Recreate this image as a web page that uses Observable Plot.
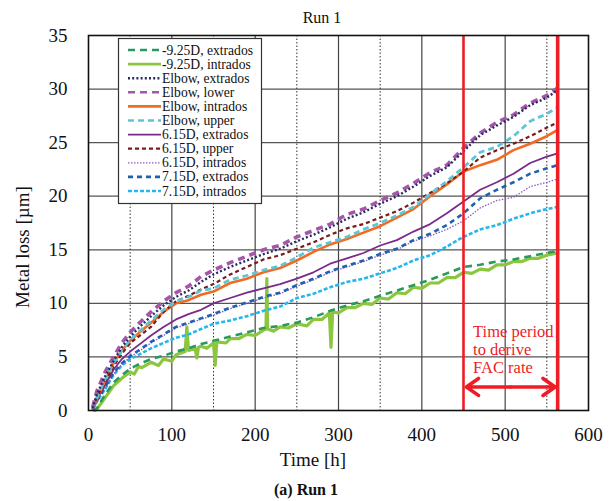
<!DOCTYPE html>
<html>
<head>
<meta charset="utf-8">
<script src="https://cdn.jsdelivr.net/npm/d3@7"></script>
<script src="https://cdn.jsdelivr.net/npm/@observablehq/plot@0.6"></script>
<style>
  html, body { margin: 0; padding: 0; background: white; }
  #chart { position: relative; width: 611px; height: 501px; }
</style>
</head>
<body>
<div id="chart"></div>
<script>
// ---------- data ----------
const times = [5,10,20,30,40,50,60,75,90,105,120,135,150,170,190,210,230,250,270,290,310,330,350,370,390,410,430,450,470,490,510,530,550,563];

const seriesNames = [
  "-9.25D, extrados", "-9.25D, intrados", "Elbow, extrados", "Elbow, lower", "Elbow, intrados",
  "Elbow, upper", "6.15D, extrados", "6.15D, upper", "6.15D, intrados", "7.15D, extrados", "7.15D, intrados"
];

const m925Extrados = [0,0.2,1.5,2.6,3.3,3.9,4.3,4.8,5.1,5.5,5.8,6.2,6.5,6.9,7.3,7.7,7.9,8.2,8.7,9.3,9.8,10.2,10.7,11.2,11.7,12.2,12.8,13.4,13.6,13.9,14.1,14.4,14.7,14.9];

const m925IntradosTimes = [8,10,20,30,40,50,55,60,64,75,84,90,100,105,116,118,120,128,130,132,135,142,150,152,154,165,170,180,190,200,210,213,214,215,222,230,240,250,262,270,280,289,291,293,300,310,320,330,340,350,360,370,380,390,400,410,420,430,440,450,460,470,480,490,500,510,520,530,540,550,563];
const m925Intrados     = [0,0.1,1.2,2.3,3.0,3.6,3.4,4.1,4.0,4.5,4.2,4.8,4.6,5.2,5.5,7.8,5.6,5.8,4.9,5.9,6.0,5.8,6.3,4.2,6.4,6.3,6.7,6.7,7.1,7.0,7.5,7.6,12.3,7.6,7.4,7.8,7.7,8.1,7.9,8.5,8.5,9.1,5.9,9.2,9.1,9.6,9.6,10.0,9.9,10.5,10.4,11.0,10.9,11.5,11.4,11.9,11.9,12.4,12.4,12.9,12.8,13.2,13.1,13.6,13.6,13.9,13.9,14.2,14.2,14.5,14.7];

const elbowExtrados = [0.2,1.5,3.2,4.6,5.9,6.9,7.7,8.8,9.8,10.6,11.2,12.0,12.7,13.4,14.0,14.6,15.1,15.8,16.4,17.1,17.9,18.5,19.3,20.0,20.9,21.9,22.7,24.2,25.7,26.6,27.4,28.5,29.2,29.9];
const elbowLower    = [0.3,1.8,3.6,5.0,6.3,7.3,8.1,9.2,10.2,11.0,11.6,12.5,13.1,13.8,14.4,15.0,15.4,16.2,16.8,17.4,18.3,18.8,19.6,20.3,21.2,22.2,22.9,24.5,25.9,26.9,27.6,28.7,29.4,30.1];
const elbowIntrados = [0.2,1.1,2.8,4.4,5.6,6.5,7.2,8.2,9.2,10.0,10.3,10.8,11.1,11.9,12.3,12.9,13.3,14.0,14.8,15.5,16.0,16.6,17.2,18.0,18.8,20.0,21.1,22.3,22.9,23.4,24.3,24.9,25.6,26.2];
const elbowUpper    = [0.2,1.2,2.9,4.4,5.6,6.6,7.3,8.4,9.4,10.2,10.6,11.2,11.4,12.2,12.6,13.1,13.5,14.3,15.2,15.7,16.2,16.9,17.5,18.2,19.0,20.2,21.4,22.7,24.1,24.6,25.6,27.0,27.7,28.3];
const d615Extrados  = [0.1,1.0,2.4,3.8,4.8,5.5,6.1,7.0,7.8,8.5,9.0,9.4,10.0,10.5,11.0,11.4,11.8,12.3,12.9,13.7,14.2,14.7,15.4,15.9,16.7,17.4,18.4,19.5,20.6,21.3,22.1,23.1,23.7,24.0];
const d615Upper     = [0.3,1.2,2.7,4.1,5.3,6.3,6.9,7.8,9.2,10.2,10.7,11.3,11.8,12.7,13.4,14.1,14.5,15.1,15.7,16.4,17.0,17.4,18.0,18.6,19.4,20.3,21.2,22.3,23.6,24.3,24.9,25.6,26.4,26.9];
const d615Intrados  = [0.1,0.9,2.1,3.4,4.3,5.0,5.5,6.3,7.0,7.7,8.1,8.5,8.9,9.5,10.0,10.5,10.9,11.6,12.2,12.9,13.4,13.9,14.5,15.0,15.8,16.3,16.9,17.7,18.9,19.6,19.9,20.9,21.3,21.6];
const d715Extrados  = [0.1,0.9,2.2,3.5,4.4,5.1,5.6,6.4,7.1,7.8,8.2,8.6,9.0,9.6,10.1,10.6,11.0,11.7,12.3,13.0,13.5,14.0,14.6,15.1,15.9,16.5,17.3,18.4,19.8,20.6,21.3,22.1,22.6,22.9];
const d715Intrados  = [0.1,0.8,2.0,3.3,4.2,4.8,5.2,5.8,6.3,6.8,7.1,7.6,8.1,8.4,8.8,9.3,9.7,10.5,10.9,11.5,12.0,12.3,12.8,13.3,14.0,14.5,15.3,16.2,16.9,17.3,17.9,18.4,18.8,19.0];

const xTicks = [0,100,200,300,400,500,600];
const yTicks = [0,5,10,15,20,25,30,35];
const periodStart = 450, periodEnd = 563;
const annotationText = "Time period\nto derive\nFAC rate";

// ---------- styles ----------
const styles = {
  "-9.25D, extrados": {stroke:"#2a9a5c", width:2.6, dash:"7,5"},
  "-9.25D, intrados": {stroke:"#8cc63f", width:3.2, dash:null},
  "Elbow, extrados":  {stroke:"#2b2a63", width:2.4, dash:"2,2.2"},
  "Elbow, lower":     {stroke:"#a456a8", width:3.6, dash:"7,5"},
  "Elbow, intrados":  {stroke:"#f36a21", width:2.6, dash:null},
  "Elbow, upper":     {stroke:"#5cc6d6", width:2.8, dash:"6,4"},
  "6.15D, extrados":  {stroke:"#7a2a8a", width:1.8, dash:null},
  "6.15D, upper":     {stroke:"#7a1c1c", width:2.2, dash:"4,3"},
  "6.15D, intrados":  {stroke:"#8a5cc4", width:1.3, dash:"1.5,1.5"},
  "7.15D, extrados":  {stroke:"#2160b0", width:2.6, dash:"5,4"},
  "7.15D, intrados":  {stroke:"#25b6ef", width:2.6, dash:"4,2"}
};

const valuesByName = {
  "-9.25D, extrados": [times, m925Extrados],
  "-9.25D, intrados": [m925IntradosTimes, m925Intrados],
  "Elbow, extrados": [times, elbowExtrados],
  "Elbow, lower": [times, elbowLower],
  "Elbow, intrados": [times, elbowIntrados],
  "Elbow, upper": [times, elbowUpper],
  "6.15D, extrados": [times, d615Extrados],
  "6.15D, upper": [times, d615Upper],
  "6.15D, intrados": [times, d615Intrados],
  "7.15D, extrados": [times, d715Extrados],
  "7.15D, intrados": [times, d715Intrados]
};

// drawing order (bottom to top)
const drawOrder = ["-9.25D, intrados","-9.25D, extrados","7.15D, intrados","6.15D, intrados","7.15D, extrados",
  "6.15D, extrados","Elbow, intrados","6.15D, upper","Elbow, upper","Elbow, lower","Elbow, extrados"];

const lineMarks = drawOrder.map(name => {
  const [ts, vs] = valuesByName[name];
  const data = ts.map((t, i) => ({t, v: vs[i]}));
  const s = styles[name];
  return Plot.line(data, {x:"t", y:"v", stroke:s.stroke, strokeWidth:s.width,
    strokeDasharray: s.dash || undefined, strokeLinejoin:"round", strokeLinecap: s.dash ? "butt" : "round"});
});

const red = "#ee1c25";
const font = "'Liberation Serif', 'Times New Roman', serif";

const chart = Plot.plot({
  width: 611, height: 501,
  marginLeft: 88, marginRight: 23, marginTop: 35, marginBottom: 91,
  style: {fontFamily: font, fontSize: "19px", background: "white", color: "#111", overflow: "visible"},
  x: {domain: [0, 600], label: null},
  y: {domain: [0, 35], label: null},
  marks: [
    Plot.ruleY([5,10,15,20,25,30], {stroke:"#555", strokeWidth:1.3}),
    Plot.ruleX([100,200,300,400,500], {stroke:"#444", strokeWidth:1.2}),
    Plot.ruleX([50,150,250,350,550], {stroke:"#333", strokeWidth:1, strokeDasharray:"1.5,2"}),
    ...lineMarks,
    Plot.ruleX([periodStart], {stroke:red, strokeWidth:2.6}),
    Plot.ruleX([periodEnd], {stroke:red, strokeWidth:3.6}),
    Plot.arrow([{x1:(periodStart+periodEnd)/2, x2:periodStart+3.5}, {x1:(periodStart+periodEnd)/2, x2:periodEnd-3}],
      {x1:"x1", x2:"x2", y1:2.2, y2:2.2, stroke:red, strokeWidth:3.6, headLength:13, headAngle:70}),
    Plot.text([annotationText], {x: periodStart + 11.5, y: 8.05, text: d => d, textAnchor:"start", lineAnchor:"top",
      fill: red, fontSize: 16.5, lineHeight: 1.09, fontFamily: font}),
    Plot.frame({stroke:"#111", strokeWidth:1.6}),
    Plot.axisX(xTicks, {tickSize:0, tickPadding:17, fontSize:19, fontFamily: font, label:null}),
    Plot.axisY(yTicks, {tickSize:0, tickPadding:21, fontSize:19, fontFamily: font, label:null})
  ]
});
document.getElementById("chart").appendChild(chart);

// ---------- titles & legend ----------
const svg = d3.select(chart);
svg.append("text").attr("x", 322).attr("y", 23).attr("text-anchor","middle")
  .attr("font-family", font).attr("font-size", 16).attr("fill","#111").text("Run 1");
svg.append("text").attr("x", 313).attr("y", 466).attr("text-anchor","middle")
  .attr("font-family", font).attr("font-size", 19).attr("fill","#111").text("Time [h]");
svg.append("text").attr("x", 306).attr("y", 495).attr("text-anchor","middle")
  .attr("font-family", font).attr("font-size", 16).attr("font-weight","bold").attr("fill","#111").text("(a) Run 1");
svg.append("text").attr("transform","translate(29,247) rotate(-90)").attr("text-anchor","middle")
  .attr("font-family", font).attr("font-size", 19).attr("fill","#111").text("Metal loss [µm]");

const lg = svg.append("g");
lg.append("rect").attr("x",118.5).attr("y",38.5).attr("width",143).attr("height",165)
  .attr("fill","white").attr("stroke","#333").attr("stroke-width",1.2);
seriesNames.forEach((name, i) => {
  const y = 50 + i * 14.1;
  const s = styles[name];
  lg.append("line").attr("x1",128).attr("x2",161).attr("y1",y).attr("y2",y)
    .attr("stroke", s.stroke).attr("stroke-width", Math.min(s.width, 2.6))
    .attr("stroke-dasharray", s.dash || null);
  lg.append("text").attr("x",162).attr("y",y+4.5).attr("text-anchor","start")
    .attr("font-family",font).attr("font-size",13.6)
    .attr("fill","#111").text(name);
});
</script>
</body>
</html>
